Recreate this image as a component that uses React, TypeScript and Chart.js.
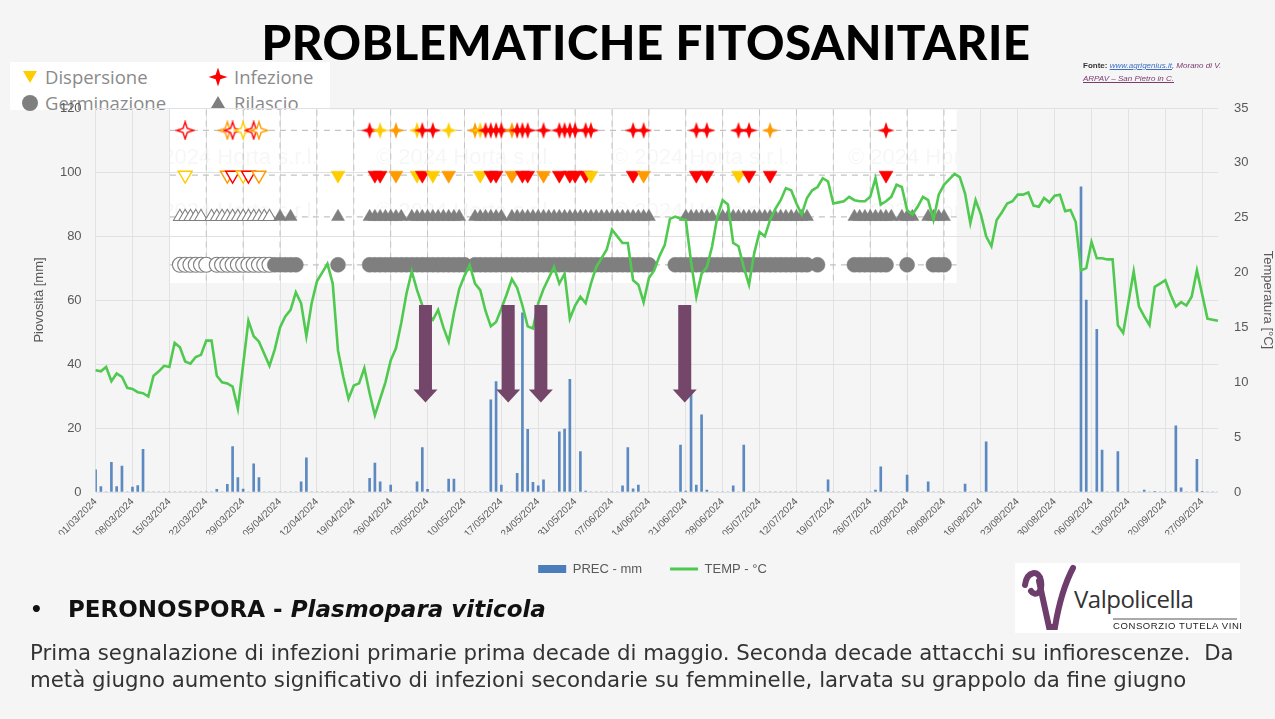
import React, { useEffect, useRef } from "react";
import { Chart, registerables } from "chart.js";
Chart.register(...registerables);

// ---------- categories ----------
const N_DAYS = 214; // 01/03/2024 .. 30/09/2024
const dayLabels: string[] = Array.from({ length: N_DAYS }, (_, i) => {
  const d = new Date(2024, 2, 1 + i);
  return `${String(d.getDate()).padStart(2, "0")}/${String(d.getMonth() + 1).padStart(2, "0")}/2024`;
});

// ---------- series ----------
const tempC: number[] = [
  11.1, 11.0, 11.4, 10.1, 10.8, 10.5, 9.5, 9.4, 9.1, 9.0,
  8.7, 10.6, 11.0, 11.5, 11.4, 13.6, 13.2, 11.9, 11.7, 12.3,
  12.5, 13.8, 13.8, 10.6, 10.0, 9.9, 9.6, 7.6, 11.6, 15.6,
  14.2, 13.7, 12.6, 11.5, 13.0, 15.0, 16.0, 16.6, 18.2, 17.2,
  14.2, 17.2, 19.2, 20.0, 20.8, 19.0, 12.9, 10.5, 8.5, 9.7,
  9.9, 11.3, 9.0, 7.0, 8.5, 10.0, 12.0, 13.1, 15.4, 18.1,
  20.1, 18.4, 17.0, 16.2, 15.7, 16.6, 15.0, 13.7, 16.3, 18.5,
  19.7, 20.7, 19.0, 18.4, 16.5, 15.1, 15.5, 16.7, 18.0, 19.4,
  18.6, 17.0, 15.1, 14.9, 17.2, 18.5, 19.5, 20.5, 19.0, 19.9,
  15.8, 17.0, 17.8, 17.2, 19.0, 20.5, 21.3, 22.1, 23.9, 23.3,
  22.7, 22.7, 19.3, 18.9, 17.3, 19.5, 20.2, 21.5, 22.5, 24.9,
  25.1, 24.9, 24.8, 21.0, 17.8, 19.9, 20.5, 22.4, 25.1, 26.6,
  26.2, 22.7, 22.4, 20.5, 18.9, 21.8, 23.7, 23.3, 24.8, 25.8,
  26.6, 27.7, 27.5, 26.3, 25.3, 26.8, 27.5, 27.8, 28.6, 28.3,
  26.3, 26.4, 26.5, 26.9, 26.6, 26.5, 26.5, 26.9, 28.6, 26.2,
  26.5, 26.9, 28.0, 27.8, 25.7, 25.3, 26.0, 26.9, 26.6, 24.8,
  27.1, 28.0, 28.5, 29.0, 28.7, 27.2, 24.5, 26.6, 25.3, 23.3,
  22.4, 24.8, 25.5, 26.3, 26.5, 27.1, 27.1, 27.3, 26.1, 26.0,
  26.8, 26.4, 27.0, 27.1, 25.6, 25.7, 24.6, 20.2, 20.4, 22.8,
  21.3, 21.3, 21.2, 21.2, 15.2, 14.5, 17.3, 20.1, 16.9, 16.0,
  15.2, 18.7, 19.0, 19.3, 18.0, 16.9, 17.3, 17.0, 17.8, 20.2,
  18.0, 15.8, 15.7, 15.6,
];

// rainy days: [day index, mm]
const precEvents: [number, number][] = [
  [0, 6.9], [1, 1.7], [3, 9.3], [4, 1.7], [5, 8.1], [7, 1.5], [8, 2.0], [9, 13.3],
  [23, 0.8], [25, 2.4], [26, 14.2], [27, 4.5], [28, 0.9], [30, 8.8], [31, 4.5],
  [39, 3.2], [40, 10.7],
  [52, 4.3], [53, 9.0], [54, 3.2], [56, 2.2],
  [61, 3.2], [62, 13.9], [63, 0.8], [67, 4.0], [68, 4.0],
  [75, 28.8], [76, 34.5], [77, 2.2],
  [80, 5.8], [81, 56.0], [82, 19.6], [83, 3.0], [84, 1.9], [85, 3.8],
  [88, 18.8], [89, 19.7], [90, 35.2], [92, 12.6], [93, 0.3],
  [100, 1.9], [101, 13.9], [102, 1.0], [103, 2.2],
  [111, 14.7], [112, 0.3], [113, 30.8], [114, 2.2], [115, 24.1], [116, 0.6],
  [121, 1.9], [123, 14.7], [139, 3.8], [148, 0.6], [149, 7.9], [154, 5.3], [158, 3.2],
  [165, 2.5], [169, 15.7],
  [187, 95.4], [188, 60.0], [190, 50.8], [191, 13.1], [194, 12.6],
  [199, 0.6], [201, 0.2], [205, 20.7], [206, 1.3], [209, 10.2], [210, 0.2],
];

// phytosanitary rows: [day index, colour code, hollow]
type Mark = [number, "R" | "O" | "Y", boolean];
const infezioneMarks: Mark[] = [
  [17, "R", true], [25, "O", true], [26, "R", true], [28, "Y", true], [30, "R", true], [31, "O", true],
  [52, "R", false], [54, "Y", false], [57, "O", false], [61, "Y", false], [62, "R", false], [64, "R", false], [67, "Y", false],
  [72, "O", false], [73, "Y", false], [74, "R", false], [75, "R", false], [76, "R", false], [77, "R", false],
  [79, "O", false], [80, "R", false], [81, "R", false], [82, "R", false], [85, "R", false],
  [88, "R", false], [89, "R", false], [90, "R", false], [91, "R", false], [93, "R", false], [94, "R", false],
  [102, "R", false], [104, "R", false], [114, "R", false], [116, "R", false], [122, "R", false], [124, "R", false],
  [128, "O", false], [150, "R", false],
];
const dispersioneMarks: Mark[] = [
  [17, "Y", true], [25, "O", true], [26, "R", true], [28, "Y", true], [29, "R", true], [31, "O", true],
  [46, "Y", false], [53, "R", false], [54, "R", false], [57, "O", false], [61, "Y", false], [62, "R", false],
  [64, "Y", false], [67, "O", false], [73, "Y", false], [75, "R", false], [76, "R", false],
  [79, "O", false], [81, "R", false], [82, "R", false], [85, "O", false], [88, "R", false], [90, "R", false],
  [91, "R", false], [93, "R", false], [94, "Y", false], [102, "R", false], [104, "O", false],
  [114, "R", false], [116, "R", false], [122, "Y", false], [124, "R", false], [128, "R", false], [150, "R", false],
];
const rilascioHollow: number[] = [16, 17, 18, 19, 20, 22, 23, 24, 25, 26, 27, 28, 29, 30, 31, 32, 33];
const rilascioRanges: [number, number][] = [
  [35, 35], [37, 37], [46, 46], [52, 58], [60, 69], [72, 77], [79, 105], [112, 117], [119, 135],
  [144, 151], [153, 155], [158, 161],
];
const germHollow: number[] = [16, 17, 18, 19, 20, 21, 23, 24, 25, 26, 27, 28, 29, 30, 31, 32, 33];
const germRanges: [number, number][] = [
  [34, 38], [46, 46], [52, 70], [72, 105], [110, 135], [137, 137], [144, 150], [154, 154], [159, 161],
];

// row levels on the left axis
const ROW_INFEZIONE = 113;
const ROW_DISPERSIONE = 99;
const ROW_RILASCIO = 86;
const ROW_GERMINAZIONE = 71;

// arrows (day position, from / to mm)
const arrowDays: number[] = [62.6, 78.3, 84.5, 111.8];
const arrowTop = 58.4;
const arrowTip = 28.0;

// overlay box (day range, mm range)
const boxDays: [number, number] = [14.1, 163.4];
const boxValues: [number, number] = [65.3, 119.5];

const COLORS = { R: "#ff0000", O: "#ff9a00", Y: "#ffcc00" };
const GRAY = "#7f7f7f";
const GREEN = "#4fc94f";
const BLUE = "#4a7dba";
const TXT = "#595959";
const FONT = '"Liberation Sans", Arial, sans-serif';

function starCanvas(color: string, hollow: boolean): HTMLCanvasElement {
  const c = document.createElement("canvas");
  c.width = 20;
  c.height = 20;
  const g = c.getContext("2d")!;
  const R = 8.5, r = 3.0, cx = 10, cy = 10;
  g.beginPath();
  for (let k = 0; k < 8; k++) {
    const a = -Math.PI / 2 + (k * Math.PI) / 4;
    const rr = k % 2 === 0 ? R : r;
    const px = cx + rr * Math.cos(a), py = cy + rr * Math.sin(a);
    if (k === 0) g.moveTo(px, py);
    else g.lineTo(px, py);
  }
  g.closePath();
  if (hollow) {
    g.fillStyle = "#fff";
    g.fill();
    g.strokeStyle = color;
    g.lineWidth = 1.4;
    g.stroke();
  } else {
    g.fillStyle = color;
    g.fill();
  }
  return c;
}

function expand(ranges: [number, number][]): number[] {
  const out: number[] = [];
  ranges.forEach(([a, b]) => {
    for (let d = a; d <= b; d++) out.push(d);
  });
  return out;
}

function rowArray(days: number[], level: number): (number | null)[] {
  const arr: (number | null)[] = new Array(N_DAYS).fill(null);
  days.forEach((d) => (arr[d] = level));
  return arr;
}

const boxPlugin = {
  id: "overlayBox",
  beforeDraw(chart: any) {
    const { ctx, scales } = chart;
    const x = scales.x, y = scales.y;
    const x0 = x.getPixelForValue(boxDays[0]);
    const x1 = x.getPixelForValue(boxDays[1]);
    const y0 = y.getPixelForValue(boxValues[1]);
    const y1 = y.getPixelForValue(boxValues[0]);
    ctx.save();
    ctx.fillStyle = "#ffffff";
    ctx.fillRect(x0, y0, x1 - x0, y1 - y0);
    ctx.beginPath();
    ctx.rect(x0, y0, x1 - x0, y1 - y0);
    ctx.clip();
    ctx.fillStyle = "rgba(0,0,0,0.035)";
    ctx.font = '22px "Liberation Sans", Arial, sans-serif';
    ctx.textBaseline = "middle";
    const rowsY = [y.getPixelForValue(104.5), y.getPixelForValue(87.5)];
    rowsY.forEach((ry) => {
      for (let k = 0; k < 5; k++) {
        ctx.fillText("© 2024 Horta s.r.l.", x0 - 30 + k * 236, ry);
      }
    });
    ctx.restore();
  },
  beforeDatasetsDraw(chart: any) {
    const { ctx, scales } = chart;
    const x = scales.x, y = scales.y;
    const x0 = x.getPixelForValue(boxDays[0]);
    const x1 = x.getPixelForValue(boxDays[1]);
    const y0 = y.getPixelForValue(boxValues[1]);
    const y1 = y.getPixelForValue(boxValues[0]);
    ctx.save();
    ctx.strokeStyle = "#c4c4c4";
    ctx.lineWidth = 1;
    ctx.setLineDash([6, 5]);
    for (let d = 0; d < N_DAYS; d += 7) {
      const px = x.getPixelForValue(d);
      if (px <= x0 || px >= x1) continue;
      ctx.beginPath();
      ctx.moveTo(px, y0);
      ctx.lineTo(px, y1);
      ctx.stroke();
    }
    ctx.lineWidth = 1.3;
    [ROW_INFEZIONE, ROW_DISPERSIONE, ROW_RILASCIO, ROW_GERMINAZIONE].forEach((v) => {
      const py = y.getPixelForValue(v);
      ctx.beginPath();
      ctx.moveTo(x0, py);
      ctx.lineTo(x1, py);
      ctx.stroke();
    });
    ctx.restore();
  },
};

const arrowPlugin = {
  id: "arrows",
  afterDatasetsDraw(chart: any) {
    const { ctx, scales } = chart;
    const x = scales.x, y = scales.y;
    ctx.save();
    ctx.fillStyle = "#74466a";
    arrowDays.forEach((d) => {
      const cx = x.getPixelForValue(d);
      const top = y.getPixelForValue(arrowTop);
      const tip = y.getPixelForValue(arrowTip);
      const headH = 13, shaftW = 13, headW = 24;
      ctx.beginPath();
      ctx.moveTo(cx - shaftW / 2, top);
      ctx.lineTo(cx + shaftW / 2, top);
      ctx.lineTo(cx + shaftW / 2, tip - headH);
      ctx.lineTo(cx + headW / 2, tip - headH);
      ctx.lineTo(cx, tip);
      ctx.lineTo(cx - headW / 2, tip - headH);
      ctx.lineTo(cx - shaftW / 2, tip - headH);
      ctx.closePath();
      ctx.fill();
    });
    ctx.restore();
  },
};

export default function App() {
  const ref = useRef<HTMLCanvasElement>(null);

  useEffect(() => {
    if (!ref.current) return;
    const prec: number[] = new Array(N_DAYS).fill(0);
    precEvents.forEach(([d, v]) => (prec[d] = v));

    const infMap = new Map<number, HTMLCanvasElement>();
    infezioneMarks.forEach(([d, c, h]) => infMap.set(d, starCanvas(COLORS[c], h)));
    const disMap = new Map<number, Mark>();
    dispersioneMarks.forEach((m) => disMap.set(m[0], m));
    const rilHollowSet = new Set(rilascioHollow);
    const germHollowSet = new Set(germHollow);

    const rilDays = [...rilascioHollow, ...expand(rilascioRanges)];
    const germDays = [...germHollow, ...expand(germRanges)];

    const chart = new Chart(ref.current, {
      type: "line",
      data: {
        labels: dayLabels,
        datasets: [
          {
            label: "TEMP - °C",
            data: tempC,
            yAxisID: "y1",
            borderColor: GREEN,
            borderWidth: 2.6,
            pointRadius: 0,
            tension: 0,
            fill: false,
          } as any,
          {
            type: "bar",
            label: "PREC - mm",
            data: prec,
            yAxisID: "y",
            backgroundColor: "rgba(74,125,186,0.9)",
            barThickness: 2,
          } as any,
          {
            label: "Infezione",
            data: rowArray(infezioneMarks.map((m) => m[0]), ROW_INFEZIONE),
            yAxisID: "y",
            showLine: false,
            pointRadius: 8,
            pointStyle: (c: any) => infMap.get(c.dataIndex) || "circle",
          } as any,
          {
            label: "Dispersione",
            data: rowArray(dispersioneMarks.map((m) => m[0]), ROW_DISPERSIONE),
            yAxisID: "y",
            showLine: false,
            pointStyle: "triangle",
            pointRotation: 180,
            pointRadius: 8,
            pointBackgroundColor: (c: any) => {
              const m = disMap.get(c.dataIndex);
              if (!m) return "#fff";
              return m[2] ? "#fff" : COLORS[m[1]];
            },
            pointBorderColor: (c: any) => {
              const m = disMap.get(c.dataIndex);
              return m ? COLORS[m[1]] : "#fff";
            },
            pointBorderWidth: (c: any) => {
              const m = disMap.get(c.dataIndex);
              return m && m[2] ? 1.4 : 0.5;
            },
          } as any,
          {
            label: "Rilascio",
            data: rowArray(rilDays, ROW_RILASCIO),
            yAxisID: "y",
            showLine: false,
            pointStyle: "triangle",
            pointRadius: 7.5,
            pointBackgroundColor: (c: any) => (rilHollowSet.has(c.dataIndex) ? "#fff" : GRAY),
            pointBorderColor: GRAY,
            pointBorderWidth: (c: any) => (rilHollowSet.has(c.dataIndex) ? 1.1 : 0.5),
          } as any,
          {
            label: "Germinazione",
            data: rowArray(germDays, ROW_GERMINAZIONE),
            yAxisID: "y",
            showLine: false,
            pointStyle: "circle",
            pointRadius: 7.5,
            pointBackgroundColor: (c: any) => (germHollowSet.has(c.dataIndex) ? "#fff" : GRAY),
            pointBorderColor: GRAY,
            pointBorderWidth: (c: any) => (germHollowSet.has(c.dataIndex) ? 1.1 : 0.5),
          } as any,
        ],
      },
      options: {
        responsive: false,
        animation: false,
        events: [],
        font: { family: FONT },
        layout: { padding: { left: 30, right: 0, top: 108, bottom: 133.5 } },
        plugins: {
          tooltip: { enabled: false },
          legend: {
            position: "bottom",
            labels: {
              usePointStyle: true,
              pointStyleWidth: 28,
              boxHeight: 8,
              padding: 28,
              color: TXT,
              font: { size: 13, family: FONT },
              generateLabels: () => [
                { text: "PREC - mm", fillStyle: BLUE, strokeStyle: BLUE, lineWidth: 0, pointStyle: "rect", hidden: false, datasetIndex: 1, fontColor: TXT } as any,
                { text: "TEMP - °C", fillStyle: GREEN, strokeStyle: GREEN, lineWidth: 3, pointStyle: "line", hidden: false, datasetIndex: 0, fontColor: TXT } as any,
              ],
            },
          },
        },
        scales: {
          x: {
            type: "category",
            offset: false,
            grid: {
              offset: false,
              drawTicks: false,
              color: (c: any) => (c.index % 7 === 0 ? "#e2e2e2" : "rgba(0,0,0,0)"),
            },
            border: { display: false },
            ticks: {
              autoSkip: false,
              maxRotation: 45,
              minRotation: 45,
              padding: 4,
              color: TXT,
              font: { size: 10, family: FONT },
              callback: (_v: any, i: number) => (i % 7 === 0 ? dayLabels[i] : ""),
            },
            afterFit: (s: any) => {
              s.height = 42.5;
            },
          },
          y: {
            position: "left",
            min: 0,
            max: 120,
            ticks: { stepSize: 20, padding: 14, color: TXT, font: { size: 13, family: FONT } },
            grid: { color: "#e0e0e0", drawTicks: false },
            border: { display: false },
            title: { display: true, text: "Piovosità [mm]", color: TXT, font: { size: 13, family: FONT }, padding: { top: 2, bottom: 2 } },
            afterFit: (s: any) => {
              s.width = 65.6;
            },
          },
          y1: {
            position: "right",
            min: 0,
            max: 35,
            ticks: { stepSize: 5, padding: 16, color: TXT, font: { size: 13, family: FONT } },
            grid: { drawOnChartArea: false, drawTicks: false },
            border: { display: false },
            title: { display: true, text: "Temperatura [°C]", color: TXT, font: { size: 13, family: FONT }, padding: { top: 0, bottom: 0 } },
            afterFit: (s: any) => {
              s.width = 57;
            },
          },
        },
      } as any,
      plugins: [boxPlugin, arrowPlugin],
    });
    return () => chart.destroy();
  }, []);

  const starPath = (cx: number, cy: number, R: number, r: number) => {
    const pts: string[] = [];
    for (let k = 0; k < 8; k++) {
      const a = -Math.PI / 2 + (k * Math.PI) / 4;
      const rr = k % 2 === 0 ? R : r;
      pts.push(`${(cx + rr * Math.cos(a)).toFixed(1)},${(cy + rr * Math.sin(a)).toFixed(1)}`);
    }
    return pts.join(" ");
  };

  const BODY = '"DejaVu Sans", "Open Sans", sans-serif';

  return (
    <div
      style={{
        position: "fixed",
        left: 0,
        top: 0,
        width: 1275,
        height: 719,
        background: "#f5f5f5",
        overflow: "hidden",
        fontFamily: '"Open Sans", sans-serif',
      }}
    >
      {/* top-left legend of the phytosanitary rows */}
      <div style={{ position: "absolute", left: 10, top: 62, width: 320, height: 48, background: "#fff" }} />
      <svg style={{ position: "absolute", left: 0, top: 0 }} width={340} height={120}>
        <polygon points="23,71 37,71 30,83" fill="#ffcc00" />
        <polygon points={starPath(218, 77, 9.5, 3.2)} fill="#ff0000" />
        <circle cx={30} cy={103} r={8} fill={GRAY} />
        <polygon points="211,108 225,108 218,96" fill={GRAY} />
      </svg>
      <div style={{ position: "absolute", left: 45, top: 64, fontSize: 18.5, color: "#8a8a8a", lineHeight: "26px" }}>Dispersione</div>
      <div style={{ position: "absolute", left: 234, top: 64, fontSize: 18.5, color: "#8a8a8a", lineHeight: "26px" }}>Infezione</div>
      <div style={{ position: "absolute", left: 45, top: 90, fontSize: 18.5, color: "#8a8a8a", lineHeight: "26px" }}>Germinazione</div>
      <div style={{ position: "absolute", left: 234, top: 90, fontSize: 18.5, color: "#8a8a8a", lineHeight: "26px" }}>Rilascio</div>

      <canvas ref={ref} width={1275} height={719} style={{ position: "absolute", left: 0, top: 0, width: 1275, height: 719 }} />

      {/* title */}
      <div
        style={{
          position: "absolute",
          left: 0,
          top: 11,
          width: 1292,
          textAlign: "center",
          fontFamily: "Lato, sans-serif",
          fontWeight: 900,
          fontSize: 47.5,
          lineHeight: "62px",
          color: "#000",
          letterSpacing: 0.5,
        }}
      >
        PROBLEMATICHE FITOSANITARIE
      </div>

      {/* source */}
      <div style={{ position: "absolute", left: 1083, top: 59, fontSize: 8, lineHeight: "13px", fontFamily: FONT, fontStyle: "italic", color: "#7a3b6e" }}>
        <div>
          <span style={{ color: "#333", fontStyle: "normal", fontWeight: 700 }}>Fonte: </span>
          <span style={{ color: "#3b6fc4", textDecoration: "underline" }}>www.agrigenius.it</span>, Morano di V.
        </div>
        <div style={{ textDecoration: "underline" }}>ARPAV – San Pietro in C.</div>
      </div>

      {/* bottom text */}
      <div style={{ position: "absolute", left: 30, top: 594, fontSize: 20, fontWeight: 700, color: "#111", lineHeight: "30px", fontFamily: BODY }}>•</div>
      <div style={{ position: "absolute", left: 68, top: 593, fontSize: 23, fontWeight: 700, color: "#111", lineHeight: "32px", fontFamily: BODY }}>
        PERONOSPORA - <span style={{ fontStyle: "italic" }}>Plasmopara viticola</span>
      </div>
      <div style={{ position: "absolute", left: 30, top: 639, fontSize: 21.3, color: "#333", lineHeight: "27px", whiteSpace: "nowrap", fontFamily: BODY }}>
        Prima segnalazione di infezioni primarie prima decade di maggio. Seconda decade attacchi su infiorescenze.&nbsp; Da
      </div>
      <div style={{ position: "absolute", left: 30, top: 666, fontSize: 21.3, color: "#333", lineHeight: "27px", whiteSpace: "nowrap", fontFamily: BODY }}>
        metà giugno aumento significativo di infezioni secondarie su femminelle, larvata su grappolo da fine giugno
      </div>

      {/* logo */}
      <div style={{ position: "absolute", left: 1015, top: 563, width: 225, height: 70, background: "#fff" }} />
      <svg style={{ position: "absolute", left: 1015, top: 563 }} width={225} height={70}>
        <path d="M10 22 C 12 8, 24 6, 26 18 C 28 30, 20 34, 16 28" stroke="#6e3d6c" strokeWidth={6} fill="none" strokeLinecap="round" />
        <path d="M24 18 L 34 64 L 40 64 C 44 40, 50 20, 58 5" stroke="#6e3d6c" strokeWidth={6} fill="none" strokeLinecap="round" />
        <line x1={98} y1={56} x2={222} y2={56} stroke="#555" strokeWidth={1} />
      </svg>
      <div style={{ position: "absolute", left: 1074, top: 584, fontSize: 24, color: "#333", lineHeight: "30px", fontFamily: '"Liberation Sans Narrow", "Open Sans", sans-serif', letterSpacing: -0.5 }}>
        Valpolicella
      </div>
      <div style={{ position: "absolute", left: 1113, top: 620, fontSize: 9.5, color: "#222", lineHeight: "12px", fontFamily: FONT, letterSpacing: 0.6 }}>
        CONSORZIO TUTELA VINI
      </div>
    </div>
  );
}
